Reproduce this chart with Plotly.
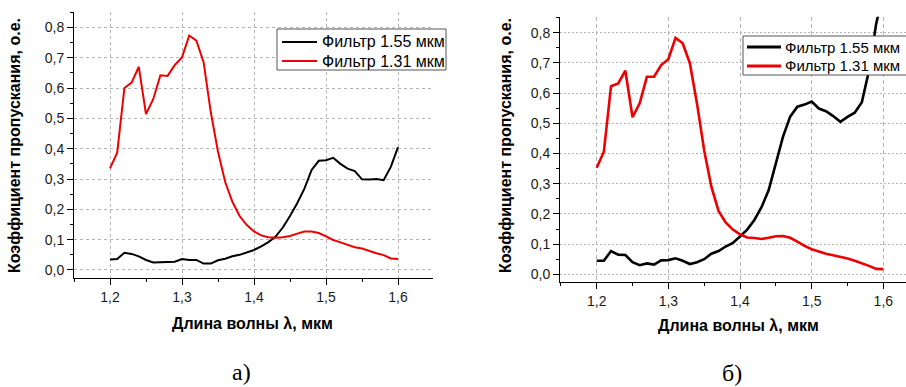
import plotly.graph_objects as go

# Wavelength grid, µm
wavelength = [round(1.20 + 0.01 * i, 2) for i in range(41)]

# Panel а): transmission coefficient, a.u.
a_filter_155 = [0.035, 0.036, 0.057, 0.053, 0.045, 0.033, 0.025, 0.026, 0.026, 0.027,
                0.036, 0.033, 0.033, 0.021, 0.021, 0.032, 0.037, 0.045, 0.050, 0.058,
                0.066, 0.078, 0.092, 0.110, 0.140, 0.178, 0.220, 0.268, 0.330, 0.360,
                0.362, 0.370, 0.350, 0.334, 0.326, 0.299, 0.298, 0.300, 0.296, 0.340,
                0.405]
a_filter_131 = [0.335, 0.387, 0.600, 0.618, 0.670, 0.514, 0.563, 0.642, 0.640, 0.676,
                0.701, 0.773, 0.756, 0.685, 0.520, 0.390, 0.290, 0.225, 0.178, 0.148,
                0.127, 0.114, 0.108, 0.106, 0.108, 0.112, 0.120, 0.127, 0.127, 0.122,
                0.111, 0.099, 0.091, 0.083, 0.075, 0.071, 0.062, 0.055, 0.049, 0.038,
                0.036]

# Panel б): transmission coefficient, a.u.
b_filter_155 = [0.045, 0.045, 0.077, 0.065, 0.064, 0.040, 0.030, 0.036, 0.032, 0.046,
                0.047, 0.053, 0.045, 0.034, 0.040, 0.050, 0.068, 0.077, 0.092, 0.104,
                0.125, 0.148, 0.180, 0.222, 0.279, 0.372, 0.456, 0.522, 0.555, 0.562,
                0.572, 0.549, 0.540, 0.524, 0.505, 0.521, 0.535, 0.570, 0.675, 0.830,
                0.930]
b_filter_131 = [0.353, 0.406, 0.623, 0.632, 0.674, 0.520, 0.566, 0.654, 0.654, 0.693,
                0.712, 0.783, 0.765, 0.699, 0.565, 0.410, 0.290, 0.210, 0.172, 0.148,
                0.132, 0.122, 0.120, 0.117, 0.121, 0.126, 0.127, 0.121, 0.108, 0.094,
                0.083, 0.075, 0.068, 0.063, 0.058, 0.052, 0.045, 0.037, 0.028, 0.018,
                0.017]

x_ticks = [1.2, 1.3, 1.4, 1.5, 1.6]
y_ticks = [0.0, 0.1, 0.2, 0.3, 0.4, 0.5, 0.6, 0.7, 0.8]

label_155 = "Фильтр 1.55 мкм"
label_131 = "Фильтр 1.31 мкм"
x_title = "Длина волны λ, мкм"
y_title = "Коэффициент пропускания, о.е."
panel_captions = ["а)", "б)"]

BLACK = "black"
RED = "#ee0000"

W, H = 906, 387
SANS = "Liberation Sans, Arial, sans-serif"
SERIF = "Liberation Serif, Times New Roman, serif"
TICK_FONT = dict(family=SANS, size=14, color="#1a1a1a")


def px_x(p):
    return p / W


def px_y(p):
    return 1 - p / H


fig = go.Figure()

# Panel а)
fig.add_trace(go.Scatter(x=wavelength, y=a_filter_155, mode="lines", name=label_155,
                         line=dict(color=BLACK, width=2), xaxis="x", yaxis="y"))
fig.add_trace(go.Scatter(x=wavelength, y=a_filter_131, mode="lines", name=label_131,
                         line=dict(color=RED, width=2), xaxis="x", yaxis="y"))
# Panel б)
fig.add_trace(go.Scatter(x=wavelength, y=b_filter_155, mode="lines", name=label_155,
                         line=dict(color=BLACK, width=2.6), xaxis="x2", yaxis="y2"))
fig.add_trace(go.Scatter(x=wavelength, y=b_filter_131, mode="lines", name=label_131,
                         line=dict(color=RED, width=2.6), xaxis="x2", yaxis="y2"))


def x_axis(domain, rng, anchor, griddash):
    return dict(domain=domain, range=rng, anchor=anchor,
                tickvals=x_ticks, ticktext=[f"{v:.1f}".replace(".", ",") for v in x_ticks],
                showline=True, linecolor="black", linewidth=1,
                ticks="outside", ticklen=6, tickcolor="black", tickwidth=1,
                minor=dict(dtick=0.05, tick0=1.15, ticks="outside", ticklen=3,
                           tickcolor="black", showgrid=False),
                showgrid=True, gridcolor="#b4b4b4", gridwidth=1, griddash=griddash,
                zeroline=False, tickfont=TICK_FONT, fixedrange=True)


def y_axis(domain, rng, anchor, griddash):
    return dict(domain=domain, range=rng, anchor=anchor,
                tickvals=y_ticks, ticktext=[f"{v:.1f}".replace(".", ",") for v in y_ticks],
                showline=True, linecolor="black", linewidth=1,
                ticks="outside", ticklen=6, tickcolor="black", tickwidth=1,
                minor=dict(dtick=0.05, tick0=0, ticks="outside", ticklen=3,
                           tickcolor="black", showgrid=False),
                showgrid=True, gridcolor="#b4b4b4", gridwidth=1, griddash=griddash,
                zeroline=False, tickfont=TICK_FONT, fixedrange=True)


def legend_box(left, top, right, bottom, key_x0, key_x1, row_ys, key_width,
               text_x, text_size, shapes, annotations):
    """Framed key with a line sample and a label per series, drawn over the plot."""
    shapes.append(dict(type="rect", xref="paper", yref="paper", layer="above",
                       x0=px_x(left), x1=px_x(right), y0=px_y(bottom), y1=px_y(top),
                       fillcolor="white", line=dict(color="#555555", width=1)))
    for (color, label), y in zip([(BLACK, label_155), (RED, label_131)], row_ys):
        shapes.append(dict(type="line", xref="paper", yref="paper", layer="above",
                           x0=px_x(key_x0), x1=px_x(key_x1), y0=px_y(y), y1=px_y(y),
                           line=dict(color=color, width=key_width)))
        annotations.append(dict(text=label, x=px_x(text_x), y=px_y(y),
                                xanchor="left", yanchor="middle",
                                font=dict(family=SANS, size=text_size, color="black")))


shapes = []
annotations = [
    dict(text=f"<b>{y_title}</b>", x=px_x(15), y=px_y(146), textangle=-90,
         xanchor="center", yanchor="middle",
         font=dict(family=SANS, size=16, color="black")),
    dict(text=f"<b>{x_title}</b>", x=px_x(253), y=px_y(323),
         xanchor="center", yanchor="middle",
         font=dict(family=SANS, size=16, color="black")),
    dict(text=panel_captions[0], x=px_x(241), y=px_y(372),
         xanchor="center", yanchor="middle",
         font=dict(family=SERIF, size=24, color="black")),
    dict(text=f"<b>{y_title}</b>", x=px_x(505), y=px_y(145), textangle=-90,
         xanchor="center", yanchor="middle",
         font=dict(family=SANS, size=16, color="black")),
    dict(text=f"<b>{x_title}</b>", x=px_x(738), y=px_y(325),
         xanchor="center", yanchor="middle",
         font=dict(family=SANS, size=16, color="black")),
    dict(text=panel_captions[1], x=px_x(732), y=px_y(373),
         xanchor="center", yanchor="middle",
         font=dict(family=SERIF, size=24, color="black")),
]

legend_box(277, 29, 446, 70, 282, 317, [42, 61], 2, 320, 16, shapes, annotations)
legend_box(743, 36, 960, 75, 747, 781, [47, 66], 3, 783, 15, shapes, annotations)

for a in annotations:
    a.update(xref="paper", yref="paper", showarrow=False)

fig.update_layout(
    width=W, height=H,
    margin=dict(l=0, r=0, t=0, b=0, pad=0, autoexpand=False),
    paper_bgcolor="white", plot_bgcolor="white",
    font=dict(family=SANS, color="black"),
    xaxis=x_axis([px_x(74), px_x(433)], [1.15, 1.6486], "y", "dot"),
    yaxis=y_axis([px_y(278), px_y(12)], [-0.0264, 0.8506], "x", "dot"),
    xaxis2=x_axis([px_x(560), 1.0], [1.1488, 1.6316], "y2", "4px,3px"),
    yaxis2=y_axis([px_y(281.7), px_y(16.7)], [-0.0245, 0.853], "x2", "2px,2px"),
    shapes=shapes,
    annotations=annotations,
    showlegend=False,
)

fig.write_html("out.html")
